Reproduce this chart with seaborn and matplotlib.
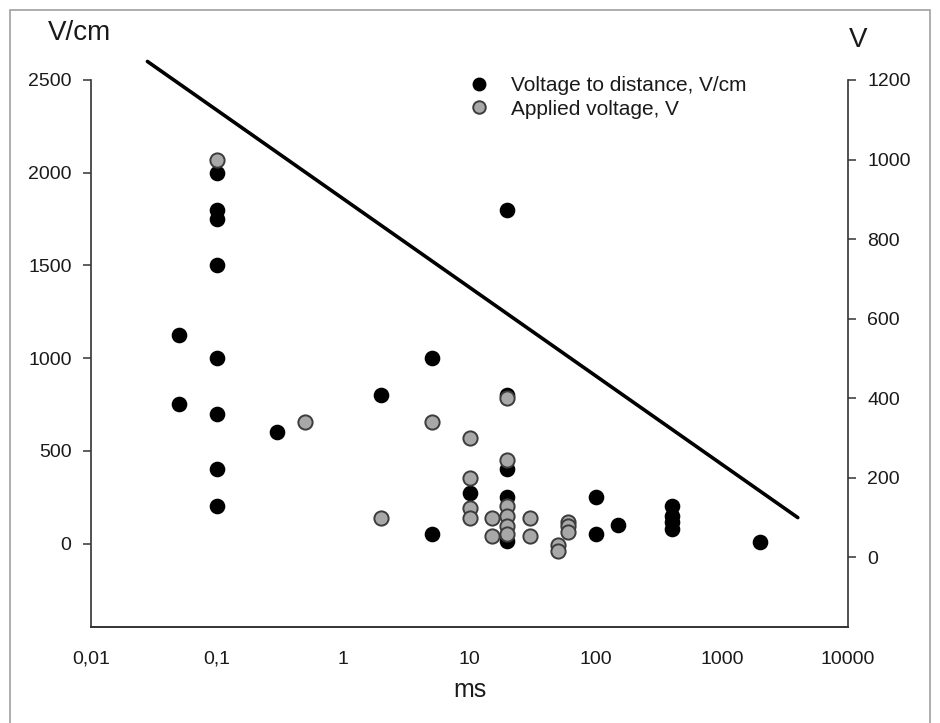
import numpy as np
import pandas as pd
import matplotlib
matplotlib.use("Agg")
import matplotlib.pyplot as plt
from matplotlib.patches import Rectangle
from matplotlib.lines import Line2D
from matplotlib.ticker import FixedLocator, FixedFormatter
import seaborn as sns

# ── data ────────────────────────────────────────────
black_ms = [0.05, 0.05,
            0.1, 0.1, 0.1, 0.1, 0.1, 0.1, 0.1, 0.1,
            0.3, 2, 5, 5, 10,
            20, 20, 20, 20, 20,
            100, 100, 150,
            400, 400, 400, 400, 2000]
black_vcm = [1125, 750,
             2000, 1800, 1750, 1500, 1000, 700, 400, 200,
             600, 800, 1000, 50, 275,
             1800, 800, 400, 250, 15,
             250, 50, 100,
             200, 150, 115, 80, 10]

gray_ms = [0.1, 0.5, 2, 5,
           10, 10, 10, 10,
           15, 15,
           20, 20, 20, 20, 20, 20,
           30, 30, 50, 50, 60, 60, 60]
gray_v = [1000, 340, 100, 340,
          300, 200, 125, 100,
          100, 55,
          400, 245, 130, 105, 80, 60,
          100, 55, 30, 15, 90, 78, 65]

line_ms = [0.028, 4000]
line_vcm = [2600, 140]

x_ticks = [0.01, 0.1, 1, 10, 100, 1000, 10000]
x_labels = ["0,01", "0,1", "1", "10", "100", "1000", "10000"]
left_ticks = [0, 500, 1000, 1500, 2000, 2500]
right_ticks = [0, 200, 400, 600, 800, 1000, 1200]

label_black = "Voltage to distance, V/cm"
label_gray = "Applied voltage, V"

# ── style ───────────────────────────────────────────
sns.set_style("white")
plt.rcParams["font.family"] = ["Liberation Sans", "DejaVu Sans"]
TXT = "#1a1a1a"
SPINE = "#333333"
GRAY_FACE = "#a8a8a8"
GRAY_EDGE = "#3c3c3c"

fig = plt.figure(figsize=(9.4, 7.23), dpi=100)
ax = fig.add_axes([91/940, 1 - 627/723, (848 - 91)/940, (627 - 80)/723])
ax2 = ax.twinx()

df_b = pd.DataFrame({"ms": black_ms, "vcm": black_vcm})
df_g = pd.DataFrame({"ms": gray_ms, "v": gray_v})
df_l = pd.DataFrame({"ms": line_ms, "vcm": line_vcm})

sns.lineplot(data=df_l, x="ms", y="vcm", ax=ax, color="black", lw=2.6,
             clip_on=False, legend=False, errorbar=None)
sns.scatterplot(data=df_b, x="ms", y="vcm", ax=ax, color="black", s=105,
                edgecolor="black", linewidth=1.0, legend=False)
sns.scatterplot(data=df_g, x="ms", y="v", ax=ax2, color=GRAY_FACE, s=105,
                edgecolor=GRAY_EDGE, linewidth=1.4, legend=False)

ax.set_xscale("log")
ax.set_xlim(0.01, 10000)
ax.set_ylim(-450, 2500)
ax2.set_ylim(-175, 1200)

ax.xaxis.set_major_locator(FixedLocator(x_ticks))
ax.xaxis.set_major_formatter(FixedFormatter(x_labels))
ax.xaxis.set_minor_locator(FixedLocator([]))
ax.set_yticks(left_ticks)
ax.set_yticklabels([str(t) for t in left_ticks])
ax2.set_yticks(right_ticks)
ax2.set_yticklabels([str(t) for t in right_ticks])

for a in (ax, ax2):
    a.set_xlabel("")
    a.set_ylabel("")
    a.spines["top"].set_visible(False)
    for s in ("left", "right", "bottom"):
        a.spines[s].set_color(SPINE)
        a.spines[s].set_linewidth(1.2)
    a.tick_params(direction="out", length=6, width=1.1, color=SPINE,
                  labelsize=14, labelcolor=TXT, pad=8)
ax.spines["right"].set_visible(False)
ax2.spines["left"].set_visible(False)
ax.tick_params(axis="x", pad=11)

# axis titles
fig.text(48/940, 1 - 33/723, "V/cm", fontsize=20, va="center", ha="left", color=TXT)
fig.text(858/940, 1 - 40/723, "V", fontsize=20, va="center", ha="center", color=TXT)
fig.text(470/940, 1 - 690/723, "ms", fontsize=18, va="center", ha="center", color=TXT)

# legend
handles = [Line2D([], [], ls="none", marker="o", markersize=9,
                  markerfacecolor="black", markeredgecolor="black"),
           Line2D([], [], ls="none", marker="o", markersize=9,
                  markerfacecolor=GRAY_FACE, markeredgecolor=GRAY_EDGE,
                  markeredgewidth=1.4)]
ax2.legend(handles, [label_black, label_gray], loc="upper left",
           bbox_to_anchor=(456/940, 1 - 66/723), bbox_transform=fig.transFigure,
           frameon=False, fontsize=15, handletextpad=0.95, labelspacing=0.2,
           borderpad=0, handlelength=1.2, labelcolor=TXT)

# outer frame
fig.patches.append(Rectangle((10/940, -0.02), 920/940, 1 - 10/723 + 0.02,
                             transform=fig.transFigure, fill=False,
                             edgecolor="#a0a0a0", lw=1.2))

fig.savefig("out.png", dpi=100)
